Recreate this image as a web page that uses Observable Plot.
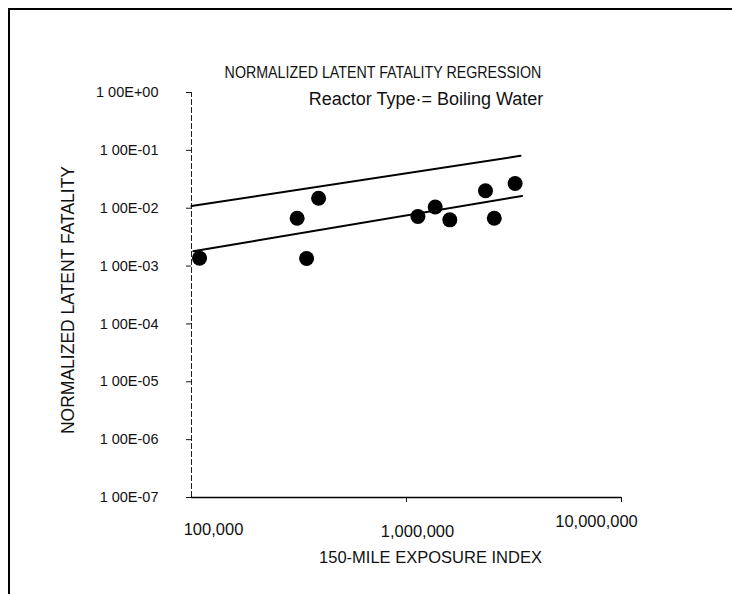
<!DOCTYPE html>
<html>
<head>
<meta charset="utf-8">
<script src="https://cdn.jsdelivr.net/npm/d3@7"></script>
<script src="https://cdn.jsdelivr.net/npm/@observablehq/plot@0.6"></script>
<style>
  html, body { margin: 0; padding: 0; background: #fff; }
  #wrap { position: relative; width: 732px; height: 594px; overflow: hidden; font-family: "Liberation Sans", Arial, sans-serif; }
  #frame { position: absolute; left: 8px; top: 8px; width: 740px; height: 700px; border: 2px solid #000; box-sizing: border-box; }
  .ttl { position: absolute; white-space: nowrap; color: #111; }
  #title { left: 383px; top: 64px; font-size: 16px; transform: translateX(-50%) scaleX(0.89); }
  #subtitle { left: 426px; top: 89px; font-size: 18px; transform: translateX(-50%); }
  #chart { position: absolute; left: 0; top: 0; }
</style>
</head>
<body>
<div id="wrap">
  <div id="frame"></div>
  <div id="chart"></div>
  <div id="title" class="ttl">NORMALIZED LATENT FATALITY REGRESSION</div>
  <div id="subtitle" class="ttl">Reactor Type·= Boiling Water</div>
</div>
<script>
// Observed data points
const exposure = [1.09e5, 3.1e5, 3.43e5, 3.9e5, 1.13e6, 1.36e6, 1.59e6, 2.33e6, 2.56e6, 3.2e6];
const fatality = [1.37e-3, 6.7e-3, 1.35e-3, 1.49e-2, 7.2e-3, 1.05e-2, 6.3e-3, 2.0e-2, 6.7e-3, 2.67e-2];

// Regression lines (endpoints)
const lineNames = ["upper", "lower"];
const lineXStart = [1e5, 1.02e5];
const lineXEnd = [3.39e6, 3.45e6];
const lineYStart = [1.09e-2, 1.8e-3];
const lineYEnd = [8.05e-2, 1.63e-2];

// Ticks
const xTicks = [1e5, 1e6, 1e7];
const xTickLabels = ["100,000", "1,000,000", "10,000,000"];
const yTicks = [1e0, 1e-1, 1e-2, 1e-3, 1e-4, 1e-5, 1e-6, 1e-7];
const yTickLabels = ["1 00E+00", "1 00E-01", "1 00E-02", "1 00E-03", "1 00E-04", "1 00E-05", "1 00E-06", "1 00E-07"];

// Axis titles
const xTitle = "150-MILE EXPOSURE INDEX";
const yTitle = "NORMALIZED LATENT FATALITY";

const points = exposure.map((x, i) => ({x, y: fatality[i]}));
const lines = [];
lineNames.forEach((name, i) => {
  lines.push({name, x: lineXStart[i], y: lineYStart[i]});
  lines.push({name, x: lineXEnd[i], y: lineYEnd[i]});
});

const xFmt = d => xTickLabels[xTicks.indexOf(d)];
// per-label offsets as drawn in the reference
const xLabelShift = [{dx: 22, dy: 0}, {dx: 11, dy: 2}, {dx: -25, dy: -8}];

const chart = Plot.plot({
  width: 732,
  height: 594,
  marginLeft: 191,
  marginRight: 111,
  marginTop: 92,
  marginBottom: 97,
  style: {fontFamily: "'Liberation Sans', Arial, sans-serif", background: "transparent", color: "#111"},
  x: {type: "log", domain: [1e5, 1e7]},
  y: {type: "log", domain: [1e-7, 1e0]},
  marks: [
    // tick marks only
    Plot.axisX({ticks: [1e6, 1e7], tickFormat: () => "", tickSize: 5, label: null}),
    // tick labels, one per tick for the reference's offsets
    ...xTicks.map((t, i) => Plot.axisX({ticks: [t], tickFormat: xFmt, tickSize: 0, tickPadding: 26,
      fontSize: 16.5, dx: xLabelShift[i].dx, dy: xLabelShift[i].dy, label: null})),
    Plot.text([xTitle], {text: d => d, frameAnchor: "bottom", textAnchor: "middle", dx: 24, dy: 65, fontSize: 16.5, fill: "#111"}),
    Plot.axisY({ticks: yTicks, tickFormat: d => yTickLabels[yTicks.indexOf(d)], tickSize: 5, tickPadding: 28, fontSize: 14.5,
      label: null}),
    Plot.text([yTitle], {text: d => d, frameAnchor: "left", textAnchor: "middle", rotate: -90, dx: -123, dy: 5, fontSize: 17.5, fill: "#111"}),
    Plot.ruleX([1e5], {y1: 1e-7, y2: 1e0, stroke: "#222", strokeWidth: 1, strokeDasharray: "6,2"}),
    Plot.ruleY([1e-7], {x1: 1e5, x2: 1e7, stroke: "#000", strokeWidth: 1.5}),
    Plot.line(lines, {x: "x", y: "y", z: "name", stroke: "#000", strokeWidth: 2}),
    Plot.dot(points, {x: "x", y: "y", r: 7.5, fill: "#000", stroke: "none"})
  ]
});
document.getElementById("chart").appendChild(chart);
</script>
</body>
</html>
